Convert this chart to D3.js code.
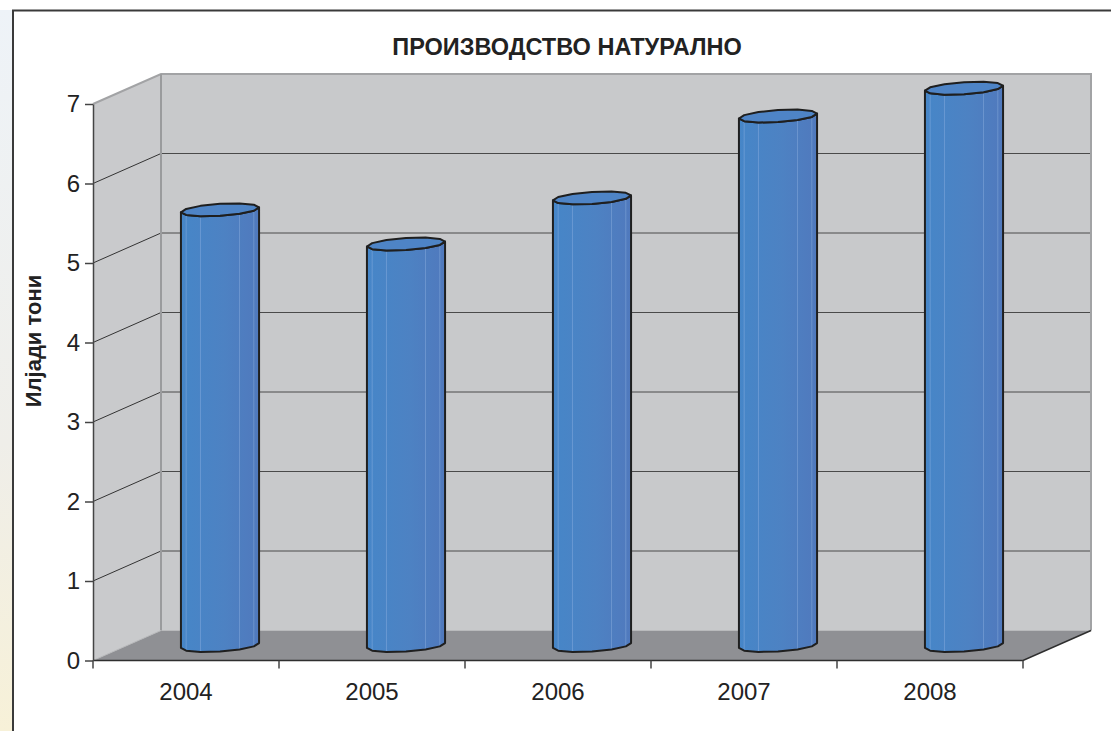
<!DOCTYPE html>
<html>
<head>
<meta charset="utf-8">
<script src="https://cdn.jsdelivr.net/npm/d3@7"></script>
<style>
  body { margin: 0; background: #fff; }
  svg { display: block; font-family: "Liberation Sans", Arial, sans-serif; }
</style>
</head>
<body>
<div id="chart"></div>
<script>
// Data (thousands of tonnes)
const years = ["2004", "2005", "2006", "2007", "2008"];
const values = [5.48, 5.05, 5.63, 6.66, 7.01];
const yTicks = [0, 1, 2, 3, 4, 5, 6, 7];
const title = "ПРОИЗВОДСТВО НАТУРАЛНО";
const yLabel = "Илјади тони";

// Dimensions
const width = 1111;
const height = 731;
const plot = { left: 93, right: 1023, top: 104, bottom: 660.5 };
const depth = { x: 68, y: 30 }; // oblique offset of the back wall

const svg = d3
  .select("#chart")
  .append("svg")
  .attr("width", width)
  .attr("height", height);

// Faint backdrop left of the frame
const bg = svg.append("defs").append("linearGradient")
  .attr("id", "bgGrad").attr("x1", 0).attr("y1", 0).attr("x2", 0).attr("y2", 1);
bg.append("stop").attr("offset", "0%").attr("stop-color", "#eef3f8");
bg.append("stop").attr("offset", "60%").attr("stop-color", "#efeee9");
bg.append("stop").attr("offset", "100%").attr("stop-color", "#f7f1d8");
svg.append("rect").attr("x", 0).attr("y", 10).attr("width", 13).attr("height", height - 10)
  .attr("fill", "url(#bgGrad)");

// Bar gradient
const barGrad = svg.select("defs").append("linearGradient")
  .attr("id", "barGrad").attr("x1", 0).attr("y1", 0).attr("x2", 1).attr("y2", 0);
barGrad.append("stop").attr("offset", "0%").attr("stop-color", "#4686c8");
barGrad.append("stop").attr("offset", "55%").attr("stop-color", "#4d82c3");
barGrad.append("stop").attr("offset", "100%").attr("stop-color", "#5079bd");

// Chart frame
svg.append("path")
  .attr("d", `M13,${height} L13,10.5 L${width},10.5`)
  .attr("fill", "none")
  .attr("stroke", "#3a3a3a")
  .attr("stroke-width", 2);

// Scales
const x = d3.scaleBand().domain(years).range([plot.left, plot.right]);
const y = d3.scaleLinear().domain([0, 7]).range([plot.bottom, plot.top]);

const x0 = plot.left, x1 = plot.right;
const yTop = y(7), yBot = y(0);

// Back wall
svg.append("rect")
  .attr("x", x0 + depth.x)
  .attr("y", yTop - depth.y)
  .attr("width", x1 - x0)
  .attr("height", yBot - yTop)
  .attr("fill", "#c8c9cb");

// Side wall
svg.append("path")
  .attr("d", `M${x0},${yTop} L${x0 + depth.x},${yTop - depth.y} L${x0 + depth.x},${yBot - depth.y} L${x0},${yBot} Z`)
  .attr("fill", "#c9cacc");

// Floor
svg.append("path")
  .attr("d", `M${x0},${yBot} L${x0 + depth.x},${yBot - depth.y} L${x1 + depth.x},${yBot - depth.y} L${x1},${yBot} Z`)
  .attr("fill", "#8f9094");

// Gridlines on back wall and side wall
const grid = yTicks.filter((d) => d > 0 && d < 7);
svg.selectAll(".grid-back")
  .data(grid)
  .enter()
  .append("line")
  .attr("x1", x0 + depth.x)
  .attr("x2", x1 + depth.x)
  .attr("y1", (d) => y(d) - depth.y)
  .attr("y2", (d) => y(d) - depth.y)
  .attr("stroke", "#4a4a4a")
  .attr("stroke-width", 1);

svg.selectAll(".grid-side")
  .data(grid)
  .enter()
  .append("line")
  .attr("x1", x0)
  .attr("x2", x0 + depth.x)
  .attr("y1", (d) => y(d))
  .attr("y2", (d) => y(d) - depth.y)
  .attr("stroke", "#333")
  .attr("stroke-width", 1);

// Wall edges
svg.append("path")
  .attr("d", `M${x0},${yTop} L${x0 + depth.x},${yTop - depth.y} L${x1 + depth.x},${yTop - depth.y} L${x1 + depth.x},${yBot - depth.y}`)
  .attr("fill", "none")
  .attr("stroke", "#a2a3a5")
  .attr("stroke-width", 2);
svg.append("line")
  .attr("x1", x0 + depth.x).attr("x2", x0 + depth.x)
  .attr("y1", yTop - depth.y).attr("y2", yBot - depth.y)
  .attr("stroke", "#9a9b9d")
  .attr("stroke-width", 2);

// Floor edges
svg.append("path")
  .attr("d", `M${x0},${yBot} L${x0 + depth.x},${yBot - depth.y}`)
  .attr("stroke", "#b8b9bb")
  .attr("stroke-width", 1);
svg.append("path")
  .attr("d", `M${x0},${yBot} L${x1},${yBot} L${x1 + depth.x},${yBot - depth.y}`)
  .attr("fill", "none")
  .attr("stroke", "#2e2e2e")
  .attr("stroke-width", 1.5);

// Cylinder geometry (oblique projection of a 12-sided prism)
const N = 12;
const halfW = x.bandwidth() * 0.21;          // screen half width
const zy = 6.5;                               // vertical depth radius
const zx = zy * depth.x / depth.y;            // horizontal depth radius
const rx = Math.sqrt(halfW * halfW - zx * zx);
const thR = Math.atan2(zx, rx);
const thL = thR + Math.PI;

function pt(cx, cy, th) {
  return [cx + rx * Math.cos(th) + zx * Math.sin(th), cy - zy * Math.sin(th)];
}
// front half vertices from left extreme to right extreme
function frontPts(cx, cy) {
  const pts = [];
  for (let k = 0; k <= N / 2; k++) pts.push(pt(cx, cy, thL + (k * 2 * Math.PI) / N));
  return pts;
}
function capPts(cx, cy) {
  const pts = [];
  for (let k = 0; k < N; k++) pts.push(pt(cx, cy, thR + (k * 2 * Math.PI) / N));
  return pts;
}

const line = d3.line();

const bars = svg.selectAll(".bar")
  .data(years.map((d, i) => ({ year: d, value: values[i] })))
  .enter()
  .append("g")
  .attr("class", "bar");

bars.each(function (d) {
  const g = d3.select(this);
  const cx = x(d.year) + x.bandwidth() / 2 + depth.x / 2;
  const cyTop = y(d.value) - depth.y / 2;
  const cyBot = y(0) - depth.y / 2;

  const topFront = frontPts(cx, cyTop);
  const botFront = frontPts(cx, cyBot);
  const body = botFront.concat(topFront.slice().reverse());

  g.append("path")
    .attr("d", line(body) + "Z")
    .attr("fill", "url(#barGrad)");

  // facet edges
  for (let k = 1; k < N / 2; k++) {
    g.append("line")
      .attr("x1", topFront[k][0]).attr("x2", botFront[k][0])
      .attr("y1", topFront[k][1]).attr("y2", botFront[k][1])
      .attr("stroke", "#8fb2e0")
      .attr("stroke-opacity", k === 3 ? 0 : 0.45)
      .attr("stroke-width", 1);
  }

  g.append("path")
    .attr("d", line(body) + "Z")
    .attr("fill", "none")
    .attr("stroke", "#1f1f1f")
    .attr("stroke-width", 2)
    .attr("stroke-linejoin", "round");

  g.append("path")
    .attr("d", line(capPts(cx, cyTop)) + "Z")
    .attr("fill", "#4e84c6")
    .attr("stroke", "#1f1f1f")
    .attr("stroke-width", 2)
    .attr("stroke-linejoin", "round");
});

// Y axis
const yAxis = svg.append("g")
  .attr("transform", `translate(${x0},0)`)
  .call(d3.axisLeft(y).tickValues(yTicks).tickFormat(d3.format("d"))
    .tickSize(8).tickSizeOuter(0).tickPadding(5));
yAxis.select(".domain").attr("stroke", "#444").attr("stroke-width", 1.5);
yAxis.selectAll(".tick line").attr("stroke", "#444").attr("stroke-width", 1.5);
yAxis.selectAll(".tick text")
  .style("font-family", "'Liberation Sans', Arial, sans-serif")
  .style("font-size", "24px")
  .attr("fill", "#222");

// X axis: labels at band centres, ticks at band edges
const xAxis = svg.append("g")
  .attr("transform", `translate(0,${yBot})`)
  .call(d3.axisBottom(x).tickSize(0).tickPadding(22));
xAxis.select(".domain").remove();
xAxis.selectAll(".tick text")
  .style("font-family", "'Liberation Sans', Arial, sans-serif")
  .style("font-size", "24px")
  .attr("fill", "#222");

svg.selectAll(".xtick")
  .data(years.map((d) => x(d)).concat([x1]))
  .enter()
  .append("line")
  .attr("x1", (d) => d).attr("x2", (d) => d)
  .attr("y1", yBot).attr("y2", yBot + 8)
  .attr("stroke", "#444")
  .attr("stroke-width", 1.5);

// Title
svg.append("text")
  .attr("x", 567)
  .attr("y", 55)
  .attr("text-anchor", "middle")
  .style("font-size", "23.5px")
  .style("font-weight", "bold")
  .attr("fill", "#222")
  .text(title);

// Y label
svg.append("text")
  .attr("transform", "translate(41,341) rotate(-90)")
  .attr("text-anchor", "middle")
  .style("font-size", "22px")
  .style("font-weight", "bold")
  .attr("fill", "#222")
  .text(yLabel);
</script>
</body>
</html>
